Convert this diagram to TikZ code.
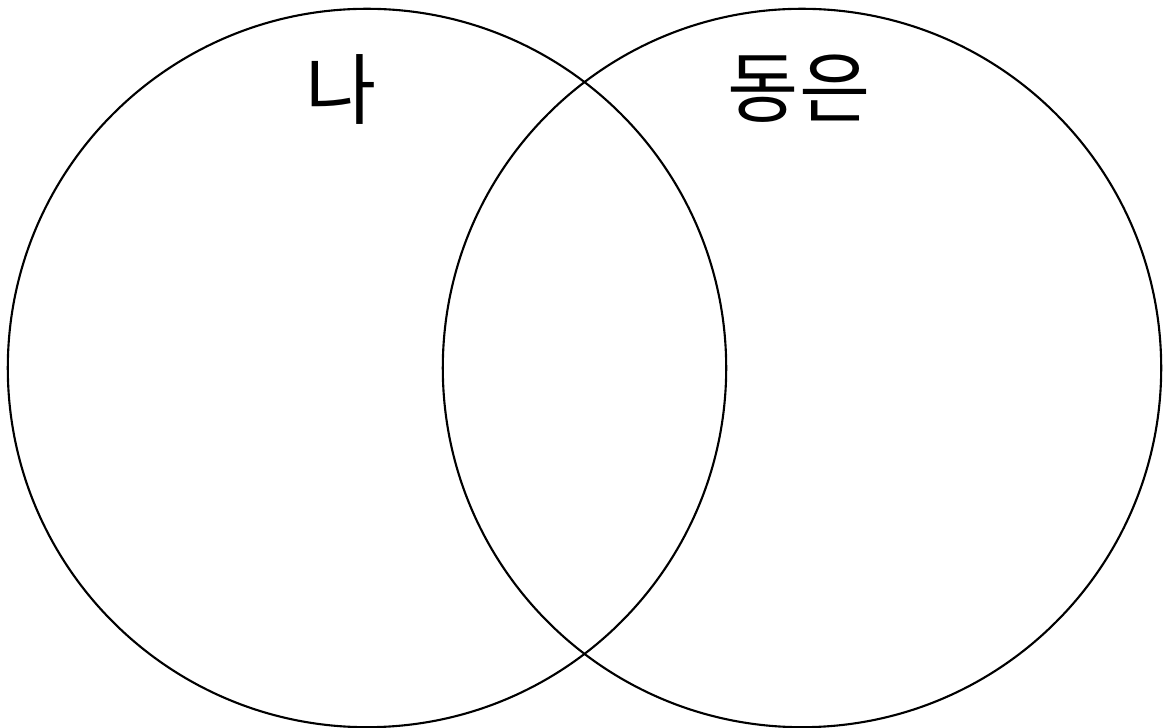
\documentclass[tikz,border=0pt]{standalone}
\usepackage{fontspec}
\newfontfamily\kofont{Noto Sans CJK KR}
\begin{document}
\begin{tikzpicture}[
    x=0.01cm, y=-0.01cm,
    setcircle/.style={
        circle, draw, line width=0.6pt, minimum size=7.18cm, inner sep=0pt
    },
    setlabel/.style={
        font=\kofont\fontsize{22pt}{25pt}\selectfont, inner sep=0pt
    }
]
\useasboundingbox (0,0) rectangle (1166,728);

% ==================== SETS ====================
\node[setcircle] (me) at (367,368) {};
\node[setcircle] (dongeun) at (802,368) {};

% ==================== LABELS ====================
\node[setlabel] (melabel) at (341,89) {나};
\node[setlabel] (dongeunlabel) at (799,89) {동은};

\end{tikzpicture}
\end{document}
